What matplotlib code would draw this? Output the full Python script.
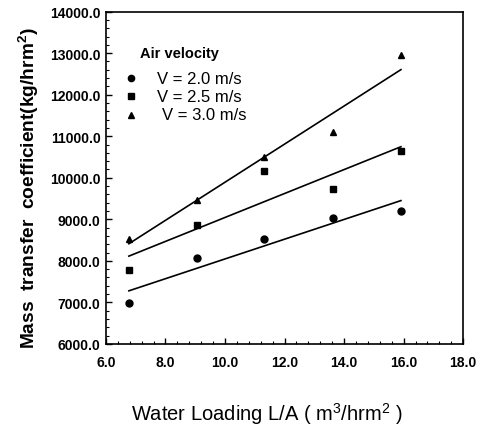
import matplotlib
matplotlib.use('Agg')
import matplotlib.pyplot as plt
import numpy as np
from matplotlib.ticker import MultipleLocator, FormatStrFormatter

plt.rcParams.update({
    'font.family': ['Liberation Sans', 'DejaVu Sans'],
    'font.size': 10,
    'mathtext.fontset': 'custom',
    'mathtext.rm': 'Liberation Sans',
    'mathtext.bf': 'Liberation Sans:bold',
})

# Data
water_loading = [6.77, 9.07, 11.3, 13.63, 15.91]
kg_v20 = [6980, 8065, 8530, 9035, 9210]
kg_v25 = [7770, 8860, 10160, 9725, 10635]
kg_v30 = [8530, 9455, 10500, 11100, 12945]

labels = ['V = 2.0 m/s', 'V = 2.5 m/s', 'V = 3.0 m/s']
values = [kg_v20, kg_v25, kg_v30]
markers = ['o', 's', '^']

fig = plt.figure(figsize=(4.86, 4.35), dpi=100)
ax = fig.add_axes([0.218, 0.207, 0.735, 0.764])

x = np.array(water_loading)
for y, m in zip(values, markers):
    ax.plot(x, y, linestyle='none', marker=m, color='black', markersize=5)
    # least-squares fit line through the data
    slope, icpt = np.polyfit(x, y, 1)
    xs = np.array([x.min(), x.max()])
    ax.plot(xs, slope * xs + icpt, color='black', linewidth=1.2)

ax.set_xlim(6, 18)
ax.set_ylim(6000, 14000)
ax.xaxis.set_major_locator(MultipleLocator(2))
ax.xaxis.set_minor_locator(MultipleLocator(0.4))
ax.yaxis.set_major_locator(MultipleLocator(1000))
ax.yaxis.set_minor_locator(MultipleLocator(200))
ax.xaxis.set_major_formatter(FormatStrFormatter('%.1f'))
ax.yaxis.set_major_formatter(FormatStrFormatter('%.1f'))
ax.tick_params(which='both', direction='in', top=False, right=False)
ax.tick_params(which='major', length=4, width=1)
ax.tick_params(axis='x', which='major', pad=8)
ax.tick_params(axis='y', which='major', pad=4)
ax.tick_params(which='minor', length=2, width=0.8)
for t in ax.get_xticklabels() + ax.get_yticklabels():
    t.set_fontweight('bold')
for s in ax.spines.values():
    s.set_linewidth(1.2)

ax.set_ylabel(r'Mass  transfer  coefficient(kg/hrm$^\mathbf{2}$)', fontsize=13.8,
              fontweight='bold')
ax.yaxis.set_label_coords(-0.181, 0.473)
ax.set_xlabel('Water Loading L/A ( m$^3$/hrm$^2$ )', fontsize=14.5)
ax.xaxis.set_label_coords(0.451, -0.17)

# legend, built by hand in axes coordinates
ax.text(0.095, 0.875, 'Air velocity', transform=ax.transAxes, fontsize=10.5,
        fontweight='bold', va='center', ha='left')
for i, (lab, m) in enumerate(zip(labels, markers)):
    yy = 0.8 - i * 0.055
    ax.plot([0.07], [yy], transform=ax.transAxes, linestyle='none', marker=m,
            color='black', markersize=4.5)
    ax.text(0.143 + (0.014 if i == 2 else 0), yy, lab, transform=ax.transAxes,
            fontsize=12, va='center', ha='left')

fig.savefig('out.png', dpi=100, facecolor='white')
